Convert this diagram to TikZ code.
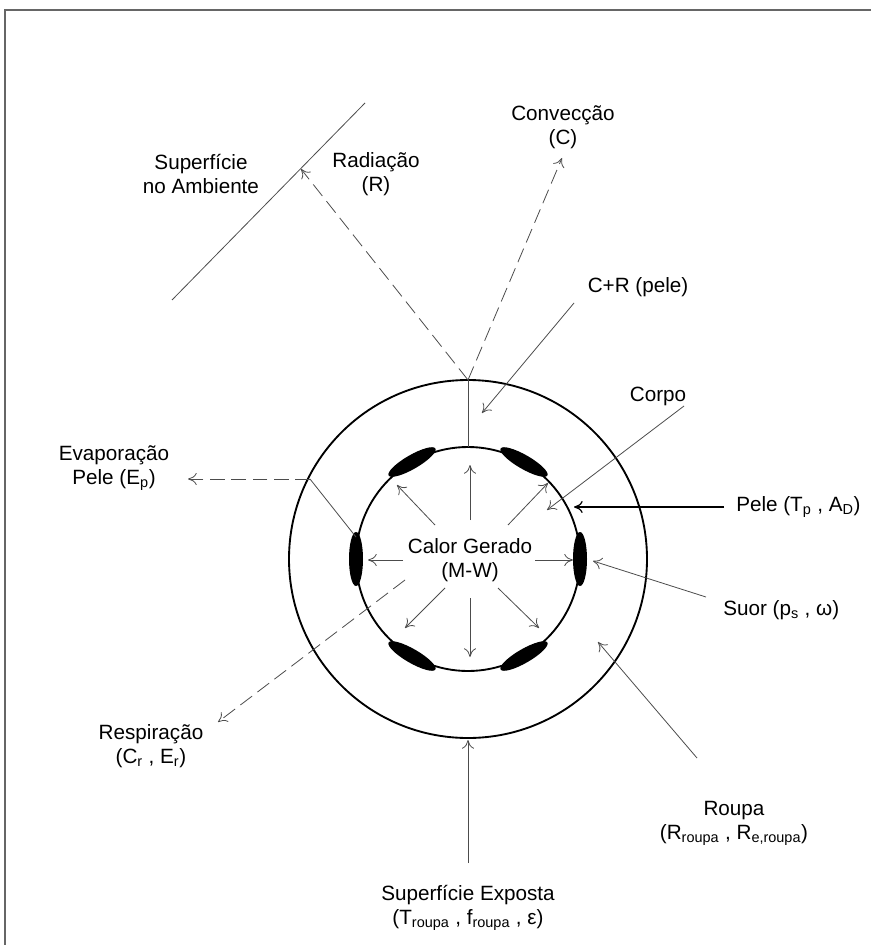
\documentclass[tikz,border=0pt]{standalone}
\usepackage{fontspec}
\setmainfont{Liberation Sans}
\usetikzlibrary{arrows.meta}
\newcommand{\sbs}[1]{\textsubscript{#1}}

\tikzset{
  txt/.style={align=center, inner sep=0.75pt, font=\fontsize{15.5}{18}\selectfont},
  thin line/.style={draw=black!70, line width=0.6pt},
  dash line/.style={thin line, dash pattern=on 11pt off 5pt},
  arrowed/.style={-{To[length=6.5pt,width=9pt]}},
  ring/.style={draw=black, line width=1.4pt},
}

\begin{document}
\begin{tikzpicture}[x=0.75pt,y=0.75pt,yscale=-1,xscale=1]
    \useasboundingbox (0,0) rectangle (871,945);
    %Frame
    \draw [black!60, line width=1pt] (5,945) -- (5,10) -- (871,10) ;

    %Shape: Circle (corpo + roupa)
    \coordinate (c0) at (468,559);
    \draw [ring] (c0) circle [radius=112] ;
    \draw [ring] (c0) circle [radius=179] ;
    %Shape: Ellipse (suor)
    \fill [shift={(c0)}, rotate=0]   (112,0) ellipse [x radius=7, y radius=27] ;
    \fill [shift={(c0)}, rotate=60]  (112,0) ellipse [x radius=7, y radius=27] ;
    \fill [shift={(c0)}, rotate=120] (112,0) ellipse [x radius=7, y radius=27] ;
    \fill [shift={(c0)}, rotate=180] (112,0) ellipse [x radius=7, y radius=27] ;
    \fill [shift={(c0)}, rotate=240] (112,0) ellipse [x radius=7, y radius=27] ;
    \fill [shift={(c0)}, rotate=300] (112,0) ellipse [x radius=7, y radius=27] ;

    % Text Node
    \node [txt] (amb) at (201,174) {Superfície\\no Ambiente};
    % Text Node
    \node [txt] (rad) at (376,174) {Radiação\\(R)};
    % Text Node
    \node [txt] (conv) at (563,127) {Convecção\\(C)};
    % Text Node
    \node [txt] (crp) at (638,287) {C+R (pele)};
    % Text Node
    \node [txt] (corpo) at (658,396) {Corpo};
    % Text Node
    \node [txt] (evap) at (114,468) {Evaporação\\Pele (E\sbs{p})};
    % Text Node
    \node [txt, anchor=west] (pele) at (735,507) {Pele (T\sbs{p} , A\sbs{D})};
    % Text Node
    \node [txt] (calor) at (470,560) {Calor Gerado\\(M-W)};
    % Text Node
    \node [txt, anchor=west] (suor) at (722,610) {Suor (p\sbs{s} , ω)};
    % Text Node
    \node [txt] (resp) at (151,746) {Respiração\\(C\sbs{r} , E\sbs{r})};
    % Text Node
    \node [txt] (roupa) at (734,823) {Roupa\\(R\sbs{roupa} , R\sbs{e,roupa})};
    % Text Node
    \node [txt] (supexp) at (468,908) {Superfície Exposta\\(T\sbs{roupa} , f\sbs{roupa} , ε)};

    %Straight Lines (superficie no ambiente)
    \coordinate (s1) at (365,103);
    \coordinate (s2) at (172,300);
    \draw [thin line] (s1) -- (s2) ;
    %Straight Lines (radiacao, conveccao)
    \coordinate (outTop) at (468,380);
    \coordinate (inTop) at (468,447);
    \coordinate (radTip) at (301,169);
    \coordinate (convTip) at (562,158);
    \draw [thin line] (outTop) -- (inTop) ;
    \draw [dash line, arrowed] (outTop) -- (radTip) ;
    \draw [dash line, arrowed] (outTop) -- (convTip) ;
    %Straight Lines (C+R pele)
    \coordinate (crpA) at (574,303);
    \coordinate (crpB) at (482,413);
    \draw [thin line, arrowed] (crpA) -- (crpB) ;
    %Straight Lines (corpo)
    \coordinate (corpoA) at (684,406);
    \coordinate (corpoB) at (547,510);
    \draw [thin line, arrowed] (corpoA) -- (corpoB) ;
    %Straight Lines (pele)
    \coordinate (peleA) at (724,507);
    \coordinate (peleB) at (574,507);
    \draw [draw=black, line width=0.9pt, arrowed] (peleA) -- (peleB) ;
    %Straight Lines (suor)
    \coordinate (suorA) at (706,597);
    \coordinate (suorB) at (593,561);
    \draw [thin line, arrowed] (suorA) -- (suorB) ;
    %Straight Lines (roupa)
    \coordinate (roupaA) at (697,758);
    \coordinate (roupaB) at (598,642);
    \draw [thin line, arrowed] (roupaA) -- (roupaB) ;
    %Straight Lines (superficie exposta)
    \coordinate (expA) at (468,863);
    \coordinate (expB) at (468,740);
    \draw [thin line, arrowed] (expA) -- (expB) ;
    %Straight Lines (evaporacao)
    \coordinate (evA) at (356,537);
    \coordinate (evB) at (310,479);
    \coordinate (evC) at (188,479);
    \draw [thin line] (evA) -- (evB) ;
    \draw [dash line, arrowed] (evB) -- (evC) ;
    %Straight Lines (respiracao)
    \coordinate (reA) at (405,580);
    \coordinate (reB) at (218,722);
    \draw [dash line, arrowed] (reA) -- (reB) ;

    %Straight Lines (calor gerado)
    \coordinate (uA) at (470,520);  \coordinate (uB) at (470,465);
    \coordinate (dA) at (470,598);  \coordinate (dB) at (470,657);
    \coordinate (lA) at (403,560);  \coordinate (lB) at (368,560);
    \coordinate (rA) at (535,560);  \coordinate (rB) at (573,560);
    \coordinate (ulA) at (435,525); \coordinate (ulB) at (397,485);
    \coordinate (urA) at (508,525); \coordinate (urB) at (548,483);
    \coordinate (llA) at (445,588); \coordinate (llB) at (405,628);
    \coordinate (lrA) at (498,588); \coordinate (lrB) at (539,628);
    \draw [thin line, arrowed] (uA) -- (uB) ;
    \draw [thin line, arrowed] (dA) -- (dB) ;
    \draw [thin line, arrowed] (lA) -- (lB) ;
    \draw [thin line, arrowed] (rA) -- (rB) ;
    \draw [thin line, arrowed] (ulA) -- (ulB) ;
    \draw [thin line, arrowed] (urA) -- (urB) ;
    \draw [thin line, arrowed] (llA) -- (llB) ;
    \draw [thin line, arrowed] (lrA) -- (lrB) ;
\end{tikzpicture}
\end{document}
